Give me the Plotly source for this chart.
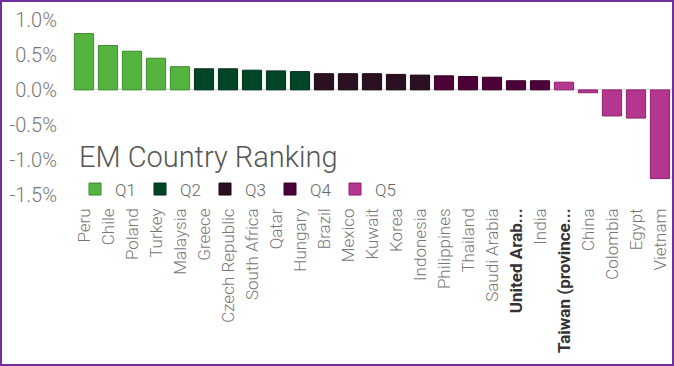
import plotly.graph_objects as go

countries = ["Peru", "Chile", "Poland", "Turkey", "Malaysia",
             "Greece", "Czech Republic", "South Africa", "Qatar", "Hungary",
             "Brazil", "Mexico", "Kuwait", "Korea", "Indonesia",
             "Philippines", "Thailand", "Saudi Arabia", "United Arab...", "India",
             "Taiwan (province...", "China", "Colombia", "Egypt", "Vietnam"]
values = [0.80, 0.63, 0.55, 0.45, 0.33,
          0.30, 0.30, 0.28, 0.27, 0.26,
          0.23, 0.23, 0.23, 0.22, 0.21,
          0.20, 0.19, 0.18, 0.13, 0.13,
          0.11, -0.04, -0.37, -0.40, -1.26]
quintiles = ["Q1"] * 5 + ["Q2"] * 5 + ["Q3"] * 5 + ["Q4"] * 5 + ["Q5"] * 5
quintile_names = ["Q1", "Q2", "Q3", "Q4", "Q5"]
fill_colors = {"Q1": "#55b340", "Q2": "#004527", "Q3": "#2b1022", "Q4": "#4e0039", "Q5": "#b5368f"}
line_colors = {"Q1": "#3d8a2e", "Q2": "#00301a", "Q3": "#190810", "Q4": "#330025", "Q5": "#8c2170"}
bold_labels = ["United Arab...", "Taiwan (province..."]
y_ticks = [-1.5, -1.0, -0.5, 0.0, 0.5, 1.0]
y_tick_labels = ["-1.5%", "-1.0%", "-0.5%", "0.0%", "0.5%", "1.0%"]

fig = go.Figure()
for q in quintile_names:
    xs = [c for c, qq in zip(countries, quintiles) if qq == q]
    ys = [v for v, qq in zip(values, quintiles) if qq == q]
    fig.add_trace(go.Bar(
        x=xs, y=ys, name=q,
        marker=dict(color=fill_colors[q], line=dict(color=line_colors[q], width=1)),
    ))

ticktext = [f"<b><span style='color:#333'>{c}</span></b>" if c in bold_labels else c for c in countries]

W, H = 674, 366
ml, mr, mt, mb = 72, 2, 16, 167
pw, ph = W - ml - mr, H - mt - mb

fig.update_layout(
    width=W, height=H,
    margin=dict(l=ml, r=mr, t=mt, b=mb, pad=0),
    paper_bgcolor="white", plot_bgcolor="white",
    barmode="relative", bargap=0.2,
    font=dict(family="Roboto", color="#777777"),
    showlegend=True,
    legend=dict(orientation="h", x=0.005, y=0.052, xanchor="left", yanchor="middle",
                font=dict(size=17, color="#666666", weight=300),
                bgcolor="rgba(0,0,0,0)", entrywidth=20, itemwidth=30,
                traceorder="normal"),
    xaxis=dict(type="category", categoryorder="array", categoryarray=countries,
               tickvals=countries, ticktext=ticktext, tickangle=-90,
               tickfont=dict(size=17, color="#777777", family="Roboto", weight=300),
               ticklabelstandoff=5,
               showgrid=False, showline=False, ticks="", automargin=False),
    yaxis=dict(range=[-1.55, 1.05], tickvals=y_ticks, ticktext=y_tick_labels,
               tickfont=dict(size=20, color="#777777", family="Roboto", weight=300),
               ticklabelstandoff=14,
               showgrid=False, zeroline=True, zerolinecolor="#dddddd", zerolinewidth=1,
               showline=False, ticks="", automargin=False),
    annotations=[dict(text="EM Country Ranking", xref="paper", yref="paper",
                      x=0.008, y=0.232, xanchor="left", yanchor="middle", showarrow=False,
                      font=dict(size=29, color="#555555", family="Roboto", weight=300))],
    shapes=[dict(type="rect", xref="paper", yref="paper",
                 x0=(1 - ml) / pw, x1=(W - ml - 1) / pw,
                 y0=-(mb - 1) / ph, y1=1 + (mt - 1) / ph,
                 line=dict(color="#7030a0", width=2), fillcolor="rgba(0,0,0,0)", layer="above")],
)

fig.write_html("out.html", config={"displayModeBar": False},
               post_script="document.body.style.margin='0px';document.body.style.overflow='hidden';")
